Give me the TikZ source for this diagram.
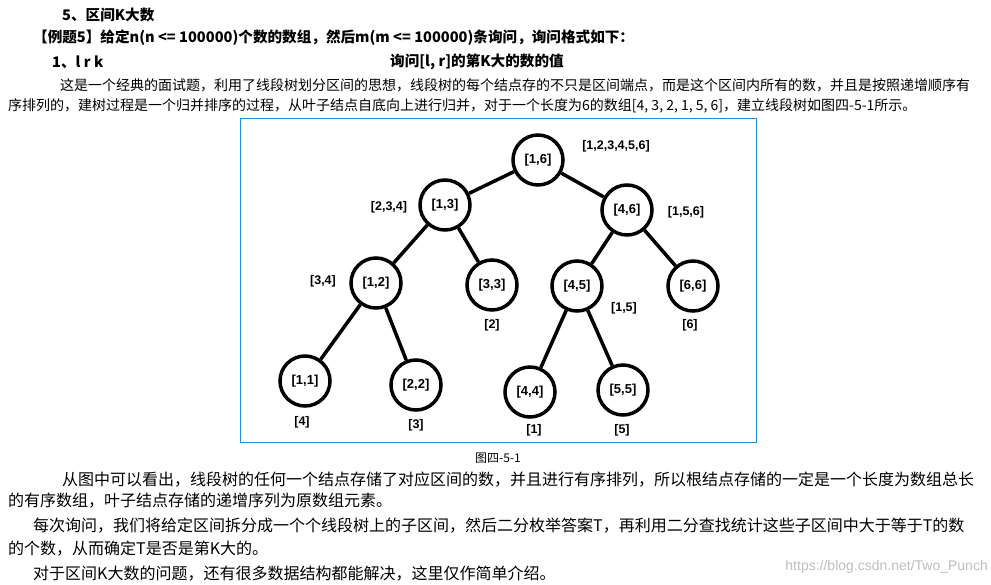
\documentclass[tikz,border=0pt]{standalone}
\usepackage{fontspec}
\setmainfont{Noto Sans CJK SC}
\newfontfamily\lab{Liberation Sans}
\begin{document}
\begin{tikzpicture}[x=1pt,y=-1pt,
  tn/.style={circle,draw,line width=3.5pt,minimum size=50pt,inner sep=0pt,font=\lab\bfseries\fontsize{13}{15}\selectfont},
  lb/.style={font=\lab\bfseries\fontsize{12.5}{14}\selectfont,inner sep=0pt},
  tx/.style={anchor=west,inner sep=0pt,font=\fontsize{14}{16}\selectfont},
  tw/.style={anchor=west,inner sep=0pt,font=\fontsize{16}{18}\selectfont},
  hd/.style={anchor=west,inner sep=0pt,font=\bfseries\fontsize{14.6}{16}\selectfont},
  ed/.style={line width=3.5pt}]
\useasboundingbox (0,0) rectangle (991,584);
\fill[white] (0,0) rectangle (991,584);
\draw[color={rgb,255:red,30;green,144;blue,210},line width=1pt] (240,118) rectangle (756,442);
\node[hd] (h1) at (62,15) {5、区间K大数};
\node[hd] (h2) at (33,38) {【例题5】给定n(n <= 100000)个数的数组，然后m(m <= 100000)条询问，询问格式如下：};
\node[hd] (h3) at (52,62) {1、l r k};
\node[hd] (h4) at (390,62) {询问[l, r]的第K大的数的值};
\node[tx] (p1) at (60,85) {这是一个经典的面试题，利用了线段树划分区间的思想，线段树的每个结点存的不只是区间端点，而是这个区间内所有的数，并且是按照递增顺序有};
\node[tx] (p2) at (8,106) {序排列的，建树过程是一个归并排序的过程，从叶子结点自底向上进行归并，对于一个长度为6的数组[4, 3, 2, 1, 5, 6]，建立线段树如图四-5-1所示。};
\node[tn] (r) at (538,160) {[1,6]};
\node[tn] (a) at (445,205) {[1,3]};
\node[tn] (b) at (627,210) {[4,6]};
\node[tn] (c) at (376,283) {[1,2]};
\node[tn] (d) at (492,285) {[3,3]};
\node[tn] (e) at (577,286) {[4,5]};
\node[tn] (f) at (693,286) {[6,6]};
\node[tn] (g) at (305,381) {[1,1]};
\node[tn] (h) at (416,385) {[2,2]};
\node[tn] (i) at (530,392) {[4,4]};
\node[tn] (j) at (623,390) {[5,5]};
\foreach \u/\v in {r/a,r/b,a/c,a/d,b/e,b/f,c/g,c/h,e/i,e/j} \draw[ed] (\u) -- (\v);
\node[lb] (l1) at (616,146) {[1,2,3,4,5,6]};
\node[lb] (l2) at (389,207) {[2,3,4]};
\node[lb] (l3) at (686,212) {[1,5,6]};
\node[lb] (l4) at (323,281) {[3,4]};
\node[lb] (l5) at (492,325) {[2]};
\node[lb] (l6) at (624,308) {[1,5]};
\node[lb] (l7) at (690,325) {[6]};
\node[lb] (l8) at (302,422) {[4]};
\node[lb] (l9) at (416,425) {[3]};
\node[lb] (l10) at (534,430) {[1]};
\node[lb] (l11) at (622,430) {[5]};
\node[inner sep=0pt,font=\fontsize{12}{14}\selectfont] (cap) at (498,458) {图四-5-1};
\node[tw] (q1) at (62,480) {从图中可以看出，线段树的任何一个结点存储了对应区间的数，并且进行有序排列，所以根结点存储的一定是一个长度为数组总长};
\node[tw] (q2) at (8,501) {的有序数组，叶子结点存储的递增序列为原数组元素。};
\node[tw] (q3) at (33,526) {每次询问，我们将给定区间拆分成一个个线段树上的子区间，然后二分枚举答案T，再利用二分查找统计这些子区间中大于等于T的数};
\node[tw] (q4) at (8,549) {的个数，从而确定T是否是第K大的。};
\node[tw] (q5) at (33,574) {对于区间K大数的问题，还有很多数据结构都能解决，这里仅作简单介绍。};
\node[anchor=east,inner sep=0pt,text=black!25,font=\lab\fontsize{14}{16}\selectfont] (wm) at (988,567) {https://blog.csdn.net/Two\_Punch};
\end{tikzpicture}
\end{document}
